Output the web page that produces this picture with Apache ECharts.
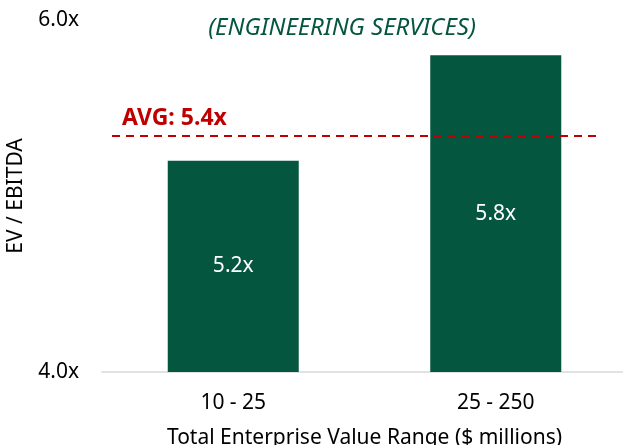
<!DOCTYPE html>
<html>
<head>
<meta charset="utf-8">
<script src="https://cdn.jsdelivr.net/npm/echarts@6/dist/echarts.min.js"></script>
<style>
  html, body { margin: 0; padding: 0; background: #fff; }
  #chart { width: 623px; height: 445px; }
</style>
</head>
<body>
<div id="chart"></div>
<script>
// values
const categories = ['10 - 25', '25 - 250']
const multiples = [5.2, 5.8]
const avgMultiple = 5.34
const avgLabel = 'AVG: 5.4x'
const yTicks = [4, 6]

const green = '#05563f'
const red = '#c00000'
const font = '"Noto Sans", sans-serif'

const chart = echarts.init(document.getElementById('chart'))
chart.setOption({
  animation: false,
  title: {
    text: '(ENGINEERING SERVICES)',
    left: 337,
    textAlign: 'center',
    top: 11,
    textStyle: {
      color: green,
      fontStyle: 'italic',
      fontWeight: 'normal',
      fontSize: 24,
      fontFamily: font
    }
  },
  grid: {
    left: 102,
    top: 20,
    width: 525,
    height: 352,
    outerBoundsMode: 'none'
  },
  xAxis: {
    type: 'category',
    data: categories,
    name: 'Total Enterprise Value Range ($ millions)',
    nameLocation: 'middle',
    nameGap: 56,
    nameTextStyle: { color: '#000', fontSize: 21, fontFamily: font },
    axisLine: { lineStyle: { color: '#d9d9d9', width: 1.5 } },
    axisTick: { show: false },
    axisLabel: { color: '#000', fontSize: 21, fontFamily: font, margin: 21 }
  },
  yAxis: {
    type: 'value',
    min: yTicks[0],
    max: yTicks[yTicks.length - 1],
    interval: 2,
    name: 'EV / EBITDA',
    nameLocation: 'middle',
    nameGap: 75,
    nameTextStyle: { color: '#000', fontSize: 21, fontFamily: font },
    splitLine: { show: false },
    axisLine: { show: false },
    axisTick: { show: false },
    axisLabel: {
      color: '#000',
      fontSize: 21,
      fontFamily: font,
      margin: 23,
      formatter: v => v.toFixed(1) + 'x'
    }
  },
  series: [{
    type: 'bar',
    data: multiples,
    barWidth: 131,
    itemStyle: { color: green },
    label: {
      show: true,
      position: 'inside',
      color: '#fff',
      fontSize: 21,
      fontFamily: font,
      formatter: p => p.value.toFixed(1) + 'x'
    },
    markLine: {
      silent: true,
      symbol: 'none',
      lineStyle: { color: red, type: [8, 6], width: 2 },
      label: {
        show: true,
        position: 'insideStartTop',
        formatter: avgLabel,
        color: red,
        fontWeight: 'bold',
        fontSize: 23,
        fontFamily: font,
        distance: [10, 6]
      },
      data: [[
        { xAxis: 0, yAxis: avgMultiple, x: 112 },
        { xAxis: 1, yAxis: avgMultiple, x: 597 }
      ]]
    }
  }]
})
</script>
</body>
</html>
